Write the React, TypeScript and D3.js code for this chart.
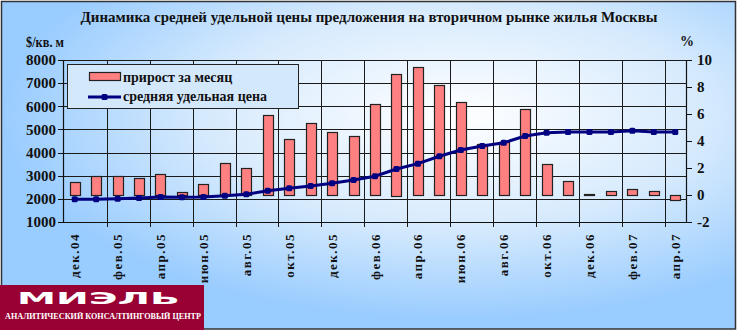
import React from 'react';
import * as d3 from 'd3';

const months = [
  'дек.04', 'янв.05', 'фев.05', 'мар.05', 'апр.05', 'май.05', 'июн.05', 'июл.05', 'авг.05', 'сен.05',
  'окт.05', 'ноя.05', 'дек.05', 'янв.06', 'фев.06', 'мар.06', 'апр.06', 'май.06', 'июн.06', 'июл.06',
  'авг.06', 'сен.06', 'окт.06', 'ноя.06', 'дек.06', 'янв.07', 'фев.07', 'мар.07', 'апр.07',
];
const growth = [
  0.94, 1.38, 1.38, 1.28, 1.55, 0.22, 0.84, 2.37, 2.0, 5.9,
  4.13, 5.36, 4.64, 4.39, 6.72, 9.0, 9.46, 8.15, 6.87, 3.76,
  3.9, 6.35, 2.32, 1.01, 0.05, 0.32, 0.42, 0.32, -0.37,
];
const price = [
  1981, 1981, 2007, 2037, 2080, 2066, 2080, 2138, 2195, 2354,
  2455, 2556, 2671, 2815, 2975, 3290, 3520, 3840, 4110, 4285,
  4427, 4716, 4860, 4890, 4890, 4890, 4946, 4890, 4890,
];
const leftTicks = [1000, 2000, 3000, 4000, 5000, 6000, 7000, 8000];
const rightTicks = [-2, 0, 2, 4, 6, 8, 10];

const title = 'Динамика средней удельной цены предложения на вторичном рынке жилья Москвы';
const serif = "'Liberation Serif', 'DejaVu Serif', serif";

export default function App() {
  const W = 738, H = 332;
  const left = 64, right = 686, top = 60, bottom = 222;
  const x = d3.scaleBand<string>().domain(months).range([left, right]).padding(0);
  const yL = d3.scaleLinear().domain([1000, 8000]).range([bottom, top]);
  const yR = d3.scaleLinear().domain([-2, 10]).range([bottom, top]);
  const bw = x.bandwidth() * 0.47;
  const cx = (i: number) => (x(months[i]) as number) + x.bandwidth() / 2;
  const line = d3.line<number>().x((_, i) => cx(i)).y(d => yL(d));
  const p = (v: number) => Math.round(v) + 0.5;

  const gridX = months.map((_, i) => i).filter(i => i > 0 && i % 2 === 0);

  return (
    <svg width={W} height={H} style={{ position: 'absolute', left: 0, top: 0, display: 'block' }}
      fontFamily={serif}>
      <defs>
        <radialGradient id="bg" cx="0.62" cy="0.35" r="0.62">
          <stop offset="0" stopColor="#ffffff" />
          <stop offset="0.55" stopColor="#d6eafd" />
          <stop offset="1" stopColor="#99ccff" />
        </radialGradient>
      </defs>
      <rect x={0} y={0} width={W} height={H} fill="#ffffff" />
      <rect x={1.5} y={1.5} width={734} height={327.5} fill="url(#bg)" stroke="#333" strokeWidth={1.5} />

      {/* title */}
      <text x={369} y={22} textAnchor="middle" fontSize={15} fontWeight="bold" fill="#111"
        textLength={577} lengthAdjust="spacingAndGlyphs">{title}</text>
      <text x={45} y={47} textAnchor="middle" fontSize={14} fontWeight="bold" fill="#111"
        textLength={38} lengthAdjust="spacingAndGlyphs">$/кв. м</text>
      <text x={687} y={46} textAnchor="middle" fontSize={14} fontWeight="bold" fill="#111">%</text>

      {/* horizontal gridlines */}
      {leftTicks.map(t => (
        <line key={'h' + t} x1={left} x2={right} y1={p(yL(t))} y2={p(yL(t))} stroke="#1a1a1a" strokeWidth={1} />
      ))}
      {/* vertical gridlines */}
      {gridX.map(i => (
        <line key={'v' + i} x1={p(x(months[i]) as number)} x2={p(x(months[i]) as number)} y1={top} y2={bottom + 5}
          stroke="#1a1a1a" strokeWidth={1} />
      ))}

      {/* axes */}
      <line x1={p(left) - 1} x2={p(left) - 1} y1={top} y2={bottom} stroke="#111" strokeWidth={1.2} />
      <line x1={p(right)} x2={p(right)} y1={top} y2={bottom} stroke="#111" strokeWidth={1.2} />
      <line x1={left} x2={right} y1={p(bottom)} y2={p(bottom)} stroke="#111" strokeWidth={1.2} />
      {leftTicks.map(t => (
        <g key={'lt' + t}>
          <line x1={left - 6} x2={left} y1={p(yL(t))} y2={p(yL(t))} stroke="#111" />
          <text x={56} y={yL(t)} dy="0.35em" textAnchor="end" fontSize={15} fontWeight="bold" fill="#111">{t}</text>
        </g>
      ))}
      {rightTicks.map(t => (
        <g key={'rt' + t}>
          <line x1={right} x2={right + 6} y1={p(yR(t))} y2={p(yR(t))} stroke="#111" />
          <text x={697} y={yR(t)} dy="0.35em" textAnchor="start" fontSize={15} fontWeight="bold" fill="#111">{t}</text>
        </g>
      ))}

      {/* bars */}
      {growth.map((v, i) => {
        const y0 = yR(0), y1 = yR(v);
        return (
          <rect key={'b' + i} x={Math.round(cx(i) - bw / 2) + 0.5} y={Math.round(Math.min(y0, y1)) + 0.5}
            width={Math.round(bw)} height={Math.max(1, Math.round(Math.abs(y0 - y1)))}
            fill="#ff8080" stroke="#222" strokeWidth={1.2} />
        );
      })}

      {/* line */}
      <path d={line(price) as string} fill="none" stroke="#000080" strokeWidth={3} />
      {price.map((v, i) => (
        <rect key={'m' + i} x={cx(i) - 3} y={yL(v) - 3} width={6} height={6} rx={1.5} fill="#000080" />
      ))}

      {/* x labels */}
      {months.map((m, i) => i % 2 === 0 ? (
        <text key={'xl' + i} transform={`translate(${cx(i)},233) rotate(-90)`} dy="0.35em" textAnchor="end"
          fontSize={13} fontWeight="bold" letterSpacing={1.5} fill="#111">{m}</text>
      ) : null)}

      {/* legend */}
      <rect x={67.5} y={64.5} width={231} height={44} fill="#d4e8fc" stroke="#222" strokeWidth={1} />
      <rect x={89.5} y={72.5} width={31} height={8} fill="#ff8080" stroke="#222" strokeWidth={1.2} />
      <text x={123} y={82} fontSize={14} fontWeight="bold" fill="#111">прирост за месяц</text>
      <line x1={88} x2={121} y1={97} y2={97} stroke="#000080" strokeWidth={3} />
      <rect x={101.5} y={94} width={6} height={6} rx={1.5} fill="#000080" />
      <text x={123} y={101} fontSize={14} fontWeight="bold" fill="#111">средняя удельная цена</text>

      {/* logo */}
      <rect x={0} y={285} width={204} height={45} fill="#990033" />
      <text x={17} y={304} fontSize={15} fontWeight={900} fill="#ffffff"
        textLength={163} lengthAdjust="spacingAndGlyphs" fontFamily="'DejaVu Sans', sans-serif">МИЭЛЬ</text>
      <text x={5} y={319} fontSize={8.5} fontWeight="bold" fill="#ffffff"
        textLength={196} lengthAdjust="spacingAndGlyphs">АНАЛИТИЧЕСКИЙ КОНСАЛТИНГОВЫЙ ЦЕНТР</text>
    </svg>
  );
}
